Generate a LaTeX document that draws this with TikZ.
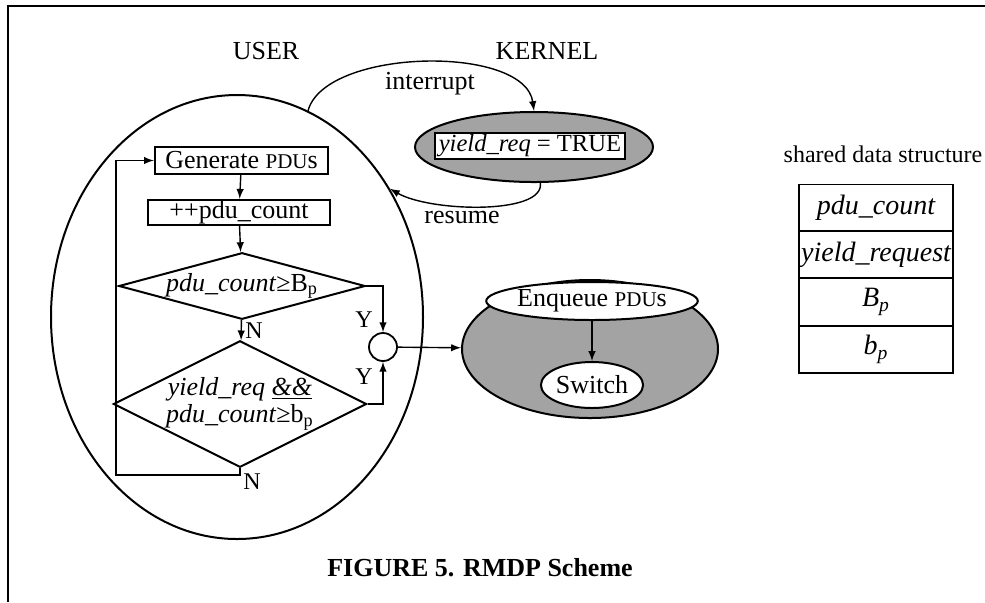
\documentclass[tikz,border=0pt]{standalone}
\usepackage{fontspec}
\setmainfont{Liberation Serif}
\usetikzlibrary{shapes.geometric}

\tikzstyle{frame}=[draw,line width=0.9pt]
\tikzstyle{stepbox}=[draw,line width=1.2pt,fill=white,inner sep=0pt]
\tikzstyle{test}=[draw,diamond,line width=1pt,inner sep=0pt,align=center]
\tikzstyle{oval}=[draw,ellipse,line width=1pt,inner sep=0pt]
\tikzstyle{shaded oval}=[oval,fill=black!36]
\tikzstyle{white oval}=[oval,fill=white]
\tikzstyle{merge point}=[draw,circle,line width=0.9pt,minimum size=14pt,inner sep=0pt]
\tikzstyle{flow}=[draw,line width=0.7pt,->]
\tikzstyle{branch}=[font=\fontsize{12}{14}\selectfont]
\tikzstyle{field}=[draw,line width=0.8pt,minimum width=77pt,minimum height=23.5pt,inner sep=0pt,font=\fontsize{14}{16}\selectfont\itshape]

\newcommand{\pdus}{{\fontsize{10.5}{12}\selectfont PDU}s}

\begin{document}
\begin{tikzpicture}[x=0.5pt,y=-0.5pt,>=latex,font=\fontsize{13}{15.6}\selectfont]
    \useasboundingbox (0,0) rectangle (985,602);
    % page frame
    \draw[frame] (8,602) -- (8,6) -- (985,6);
    % user and kernel sides
    \node (userlbl) at (266,51) {USER};
    \node (kernellbl) at (547,51) {KERNEL};
    \node[oval,minimum width=186pt,minimum height=222pt] (User) at (237,317) {};
    \node[shaded oval,minimum width=119pt,minimum height=35pt] (Yreq) at (534,147) {};
    \node[stepbox,line width=1pt,inner xsep=1.5pt,inner ysep=0.8pt,minimum width=95pt,minimum height=11pt,font=\fontsize{12.3}{14}\selectfont] (YreqBox) at (530,146) {\textit{yield\_req} = TRUE};
    \draw[flow] (User.71) .. controls (325,48) and (525,44) .. (Yreq.north);
    \draw[flow] (Yreq.-80) .. controls (545,215) and (430,212) .. (User.40);
    \node (interrupt) at (430,84) {interrupt};
    \node (resume) at (462,217) {resume};
    % flow chart of the user side
    \node[stepbox,minimum width=86.5pt,minimum height=13.5pt] (Gen) at (241.5,160.5) {Generate \pdus};
    \node[stepbox,minimum width=91pt,minimum height=12.5pt] (Count) at (239,212.5) {++pdu\_count};
    \node[test,aspect=3.7,minimum width=120.5pt,minimum height=32.5pt] (TestB) at (242,286) {\textit{pdu\_count}≥B\textsubscript{p}};
    \node[test,aspect=2,minimum width=118pt,minimum height=59pt] (TestY) at (240,404) {\textit{yield\_req} \underline{\textit{\&\&}}\\[-2pt]\textit{pdu\_count}≥b\textsubscript{p}};
    \node[merge point] (Join) at (383,347) {};
    \coordinate (back) at (116,475);
    \path[flow] (Gen) -- (Count);
    \path[flow] (Count) -- (TestB);
    \path[flow] (TestB) -- (TestY);
    \path[flow] (TestY.south) |- (back) |- (Gen.west);
    \path[flow] (TestB.east) -| (Join.north);
    \path[flow] (TestY.east) -| (Join.south);
    \node[branch] (n1) at (254,331) {N};
    \node[branch] (n2) at (252,482) {N};
    \node[branch] (y1) at (364,320) {Y};
    \node[branch] (y2) at (364,377) {Y};
    % kernel scheduling
    \node[shaded oval,minimum width=128pt,minimum height=69pt] (Sched) at (590,349) {};
    \node[white oval,minimum width=89pt,minimum height=19pt] (Enq) at (592,301) {Enqueue \pdus};
    \node[white oval,minimum width=49pt,minimum height=23pt] (Sw) at (592,385) {Switch};
    \path[flow] (Join) -- (Sched);
    \path[flow] (Enq) -- (Sw);
    % shared data structure
    \node[font=\fontsize{12}{14}\selectfont] (sharedlbl) at (883,154) {shared data structure};
    \foreach \name/\y/\txt in {F1/208/{pdu\_count},F2/254.5/{yield\_request},F3/302/{B\textsubscript{p}},F4/349.5/{b\textsubscript{p}}}
    \node[field] (\name) at (876,\y) {\txt};
    \node[font=\fontsize{13}{15}\selectfont\bfseries] (caption) at (480,568) {FIGURE 5. RMDP Scheme};
\end{tikzpicture}
\end{document}
